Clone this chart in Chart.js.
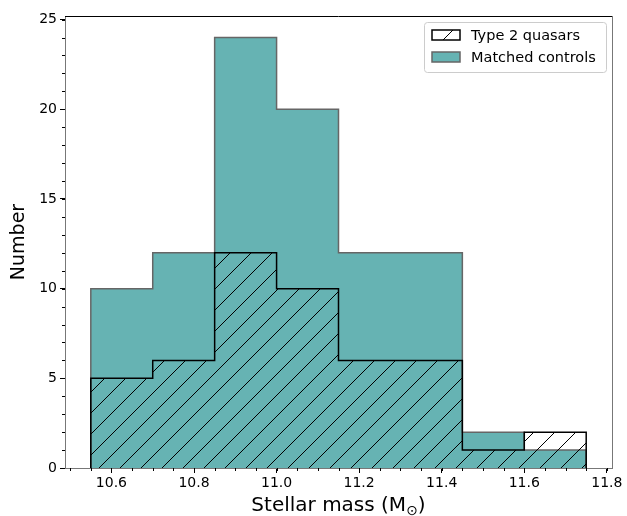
<!DOCTYPE html>
<html>
<head>
<meta charset="utf-8">
<script src="https://cdn.jsdelivr.net/npm/chart.js@4"></script>
<style>
  html, body { margin: 0; padding: 0; background: #fff; }
  #wrap { width: 627px; height: 516px; }
</style>
</head>
<body>
<div id="wrap"><canvas id="histChart" width="627" height="516"></canvas></div>
<script>
// bin edges of the stellar-mass histogram and counts per bin
const binEdges = [10.55, 10.70, 10.85, 11.00, 11.15, 11.30, 11.45, 11.60, 11.75];
const quasarCounts = [5, 6, 12, 10, 6, 6, 1, 2];
const controlCounts = [10, 12, 24, 20, 12, 12, 2, 1];
const xTicks = [10.6, 10.8, 11.0, 11.2, 11.4, 11.6, 11.8];
const yTicks = [0, 5, 10, 15, 20, 25];

const FONT = '"DejaVu Sans", sans-serif';
const TEAL = 'rgb(102,179,179)';
const EDGE = 'rgb(102,102,102)';

function stepPoints(counts) {
    const pts = [{ x: binEdges[0], y: 0 }];
    counts.forEach((c, i) => pts.push({ x: binEdges[i], y: c }));
    const last = binEdges[binEdges.length - 1];
    pts.push({ x: last, y: counts[counts.length - 1] });
    pts.push({ x: last, y: 0 });
    return pts;
}

function hatchPattern(ctx, bg) {
    const s = 21;
    const c = document.createElement('canvas');
    c.width = s; c.height = s;
    const g = c.getContext('2d');
    if (bg) { g.fillStyle = bg; g.fillRect(0, 0, s, s); }
    g.strokeStyle = '#000';
    g.lineWidth = 1;
    g.beginPath();
    g.moveTo(-1, s + 1); g.lineTo(s + 1, -1);
    g.moveTo(-2, 1); g.lineTo(1, -2);
    g.moveTo(s - 1, s + 2); g.lineTo(s + 2, s - 1);
    g.stroke();
    return ctx.createPattern(c, 'repeat');
}

const canvas = document.getElementById('histChart');
const ctx2d = canvas.getContext('2d');

// minor ticks, top/right spines, x title with subscript, legend box
const extras = {
    id: 'extras',
    afterDraw(chart) {
        const { ctx, chartArea: a, scales } = chart;
        ctx.save();
        ctx.strokeStyle = '#000';
        ctx.lineWidth = 1;
        ctx.beginPath();
        for (let v = 10.5; v <= 11.8001; v += 0.05) {
            const px = Math.round(scales.x.getPixelForValue(v)) + 0.5;
            ctx.moveTo(px, a.bottom); ctx.lineTo(px, a.bottom + 3);
        }
        for (let v = 0; v <= 25; v += 1) {
            const py = Math.round(scales.y.getPixelForValue(v)) + 0.5;
            ctx.moveTo(a.left, py); ctx.lineTo(a.left - 3, py);
        }
        ctx.stroke();

        ctx.strokeStyle = '#000';
        ctx.beginPath();
        ctx.moveTo(a.left, a.top + 0.5); ctx.lineTo(a.right, a.top + 0.5);
        ctx.stroke();
        ctx.strokeStyle = '#777';
        ctx.beginPath();
        ctx.moveTo(a.right + 0.5, a.top); ctx.lineTo(a.right + 0.5, a.bottom);
        ctx.stroke();

        // x title
        ctx.fillStyle = '#000';
        ctx.textBaseline = 'alphabetic';
        const main = 'Stellar mass (M', sub = '⊙', end = ')';
        ctx.font = '20px ' + FONT;
        const w1 = ctx.measureText(main).width, w3 = ctx.measureText(end).width;
        ctx.font = '14px ' + FONT;
        const w2 = ctx.measureText(sub).width;
        let x = (a.left + a.right) / 2 - (w1 + w2 + w3) / 2;
        const base = 511;
        ctx.font = '20px ' + FONT;
        ctx.fillText(main, x, base); x += w1;
        ctx.font = '14px ' + FONT;
        ctx.fillText(sub, x, base + 4); x += w2;
        ctx.font = '20px ' + FONT;
        ctx.fillText(end, x, base);

        // legend
        const lw = 182, lh = 50;
        const lx = a.right - 6 - lw, ly = a.top + 6;
        ctx.fillStyle = 'rgba(255,255,255,0.8)';
        ctx.strokeStyle = '#ccc';
        ctx.lineWidth = 1;
        ctx.beginPath();
        ctx.roundRect(lx + 0.5, ly + 0.5, lw, lh, 3);
        ctx.fill(); ctx.stroke();
        const items = [
            { label: 'Type 2 quasars', fill: hatchPattern(ctx, '#fff'), edge: '#000' },
            { label: 'Matched controls', fill: TEAL, edge: EDGE }
        ];
        items.forEach((it, i) => {
            const cy = ly + 13 + i * 22;
            ctx.fillStyle = it.fill;
            ctx.fillRect(lx + 8, cy - 5, 28, 10);
            ctx.strokeStyle = it.edge;
            ctx.lineWidth = 1.5;
            ctx.strokeRect(lx + 8, cy - 5, 28, 10);
            ctx.fillStyle = '#000';
            ctx.font = '14.5px ' + FONT;
            ctx.textBaseline = 'middle';
            ctx.fillText(it.label, lx + 47, cy + 1);
        });
        ctx.restore();
    }
};

new Chart(canvas, {
    type: 'line',
    data: {
        datasets: [
            {
                label: 'Type 2 quasars',
                data: stepPoints(quasarCounts),
                stepped: 'before',
                borderColor: '#000',
                borderWidth: 1.5,
                backgroundColor: hatchPattern(ctx2d, null),
                fill: 'origin',
                pointRadius: 0,
                order: 0
            },
            {
                label: 'Matched controls',
                data: stepPoints(controlCounts),
                stepped: 'before',
                borderColor: EDGE,
                borderWidth: 1.5,
                backgroundColor: TEAL,
                fill: 'origin',
                pointRadius: 0,
                order: 1
            }
        ]
    },
    options: {
        responsive: false,
        animation: false,
        layout: { padding: { top: 16, right: 15, left: 0, bottom: 0 } },
        plugins: { legend: { display: false }, tooltip: { enabled: false } },
        scales: {
            x: {
                type: 'linear',
                min: 10.4875,
                max: 11.8125,
                afterBuildTicks: s => { s.ticks = xTicks.map(v => ({ value: v })); },
                afterFit: s => { s.height = 48; },
                ticks: {
                    callback: v => v.toFixed(1),
                    color: '#000',
                    font: { family: FONT, size: 14 },
                    padding: 2,
                    maxRotation: 0
                },
                grid: { drawOnChartArea: false, drawTicks: true, tickLength: 5, color: '#000' },
                border: { color: '#777', width: 1 }
            },
            y: {
                min: 0,
                max: 25.2,
                afterBuildTicks: s => { s.ticks = yTicks.map(v => ({ value: v })); },
                afterFit: s => { s.width = 65; },
                ticks: {
                    color: '#000',
                    font: { family: FONT, size: 14 },
                    padding: 3
                },
                grid: { drawOnChartArea: false, drawTicks: true, tickLength: 5, color: '#000' },
                border: { color: '#777', width: 1 },
                title: {
                    display: true,
                    text: 'Number',
                    color: '#000',
                    font: { family: FONT, size: 19 },
                    padding: { top: 8, bottom: 2 }
                }
            }
        }
    },
    plugins: [extras]
});
</script>
</body>
</html>
